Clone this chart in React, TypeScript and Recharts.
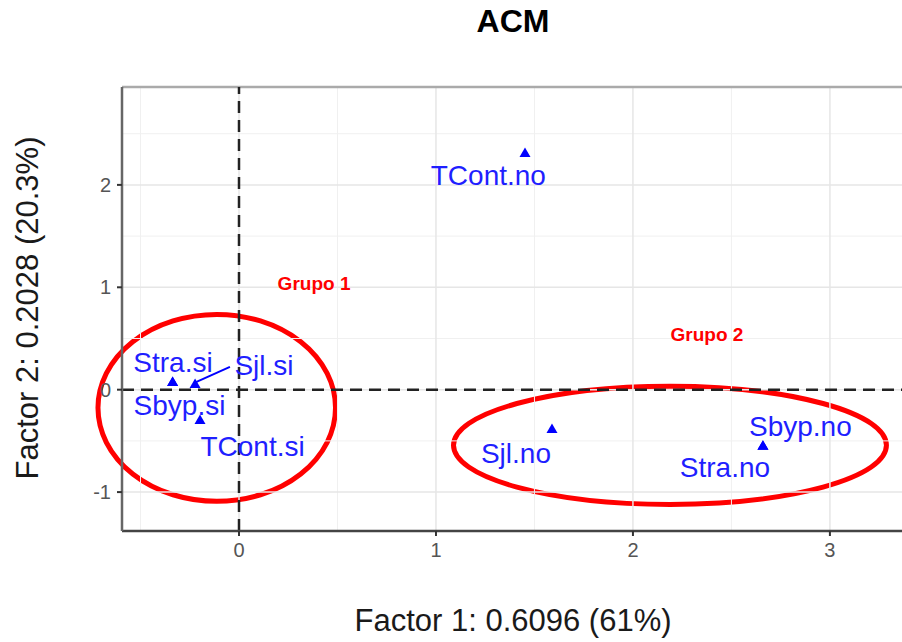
import React from "react";
import {
  ScatterChart,
  Scatter,
  XAxis,
  YAxis,
  ReferenceLine,
  ReferenceArea,
} from "recharts";

const FONT = '"Liberation Sans", Arial, Helvetica, sans-serif';

// ---- data ----
const categories = ["TCont.no", "Stra.si", "Sjl.si", "Sbyp.si", "TCont.si", "Sjl.no", "Sbyp.no", "Stra.no"];
const factor1 = [1.452, -0.337, -0.223, -0.337, -0.198, 1.589, 2.66, 2.66];
const factor2 = [2.32, 0.083, 0.063, 0.083, -0.288, -0.376, -0.541, -0.541];
// repelled label positions (data units)
const labelF1 = [1.266, -0.335, 0.127, -0.302, 0.069, 1.406, 2.85, 2.467];
const labelF2 = [2.1, 0.268, 0.239, -0.151, -0.551, -0.615, -0.356, -0.756];

const xTicks = [0, 1, 2, 3];
const yTicks = [-1, 0, 1, 2];
const xMinor = [-0.5, 0.5, 1.5, 2.5];
const yMinor = [-0.5, 0.5, 1.5, 2.5];
const xDomain = [-0.594, 3.366];
const yDomain = [-1.38, 2.956];

const groupNames = ["Grupo 1", "Grupo 2"];
const groupLabelF1 = [0.381, 2.376];
const groupLabelF2 = [1.039, 0.541];
const ellipseX1 = [-0.716, 1.089];
const ellipseX2 = [0.49, 3.287];
const ellipseY1 = [0.735, 0.034];
const ellipseY2 = [-1.09, -1.12];

const sjlSegment = [
  { x: -0.046, y: 0.222 },
  { x: -0.227, y: 0.066 },
];

const points = categories.map((name, i) => ({ name, x: factor1[i], y: factor2[i] }));
const labels = categories.map((name, i) => ({ name, x: labelF1[i], y: labelF2[i] }));
const groups = groupNames.map((name, i) => ({ name, x: groupLabelF1[i], y: groupLabelF2[i] }));

const Triangle = (props: any) => {
  const { cx, cy } = props;
  if (cx == null || cy == null) return null;
  const w = 11;
  const h = 9.5;
  return (
    <polygon
      points={`${cx - w / 2},${cy + h / 2} ${cx + w / 2},${cy + h / 2} ${cx},${cy - h / 2}`}
      fill="#0000ff"
    />
  );
};

const LabelText = (props: any) => {
  const { cx, cy, payload } = props;
  const fs = 28;
  return (
    <text x={cx} y={cy + 0.36 * fs} textAnchor="middle" fontSize={fs} fontFamily={FONT} fill="#1f1fff">
      {payload.name}
    </text>
  );
};

const GroupText = (props: any) => {
  const { cx, cy, payload } = props;
  const fs = 19;
  return (
    <text x={cx} y={cy + 0.36 * fs} textAnchor="middle" fontSize={fs} fontWeight="bold" fontFamily={FONT} fill="#ff0000">
      {payload.name}
    </text>
  );
};

const EllipseShape = (p: any) => (
  <ellipse
    cx={p.x + p.width / 2}
    cy={p.y + p.height / 2}
    rx={Math.abs(p.width / 2)}
    ry={Math.abs(p.height / 2)}
    fill="none"
    stroke="#ff0000"
    strokeWidth={5}
  />
);

export default function App() {
  return (
    <div style={{ position: "absolute", left: 0, top: 0, width: 902, height: 642, background: "#fff", overflow: "hidden" }}>
      <ScatterChart width={902} height={642} margin={{ top: 87, right: 0, bottom: 0, left: 0 }}>
        <XAxis
          type="number"
          dataKey="x"
          domain={xDomain}
          ticks={xTicks}
          allowDataOverflow
          height={111}
          axisLine={{ stroke: "#444", strokeWidth: 2.5 }}
          tickLine={{ stroke: "#333", strokeWidth: 2 }}
          tickSize={5}
          tickMargin={7}
          tick={{ fill: "#555", fontSize: 20, fontFamily: FONT }}
        />
        <YAxis
          type="number"
          dataKey="y"
          domain={yDomain}
          ticks={yTicks}
          allowDataOverflow
          width={122}
          axisLine={{ stroke: "#666", strokeWidth: 2.5 }}
          tickLine={{ stroke: "#333", strokeWidth: 2 }}
          tickSize={5}
          tickMargin={6}
          tick={{ fill: "#555", fontSize: 20, fontFamily: FONT }}
        />
        {xMinor.map((v) => (
          <ReferenceLine key={"xm" + v} x={v} stroke="#f0f0f0" strokeWidth={1} />
        ))}
        {yMinor.map((v) => (
          <ReferenceLine key={"ym" + v} y={v} stroke="#f0f0f0" strokeWidth={1} />
        ))}
        {xTicks.map((v) => (
          <ReferenceLine key={"xM" + v} x={v} stroke="#e6e6e6" strokeWidth={1.5} />
        ))}
        {yTicks.map((v) => (
          <ReferenceLine key={"yM" + v} y={v} stroke="#e6e6e6" strokeWidth={1.5} />
        ))}
        <ReferenceLine y={yDomain[1]} stroke="#aaa" strokeWidth={2.5} ifOverflow="visible" />
        <ReferenceLine x={0} stroke="#222" strokeWidth={2.5} strokeDasharray="12 7" />
        <ReferenceLine y={0} stroke="#222" strokeWidth={2.5} strokeDasharray="12 7" />
        <ReferenceLine segment={sjlSegment} stroke="#0000ff" strokeWidth={2} ifOverflow="visible" />
        <Scatter data={points} shape={Triangle} isAnimationActive={false} />
        <Scatter data={labels} shape={LabelText} isAnimationActive={false} />
        <Scatter data={groups} shape={GroupText} isAnimationActive={false} />
        {groupNames.map((g, i) => (
          <ReferenceArea
            key={g}
            x1={ellipseX1[i]}
            x2={ellipseX2[i]}
            y1={ellipseY1[i]}
            y2={ellipseY2[i]}
            ifOverflow="visible"
            shape={EllipseShape}
          />
        ))}
      </ScatterChart>
      <svg width={902} height={642} style={{ position: "absolute", left: 0, top: 0, pointerEvents: "none" }}>
        <text x={513} y={32} textAnchor="middle" fontSize={32} fontWeight="bold" fontFamily={FONT} fill="#000">
          ACM
        </text>
        <text x={513} y={631} textAnchor="middle" fontSize={31} fontFamily={FONT} fill="#1a1a1a">
          Factor 1: 0.6096 (61%)
        </text>
        <text
          x={38}
          y={308}
          textAnchor="middle"
          fontSize={31}
          fontFamily={FONT}
          fill="#1a1a1a"
          transform="rotate(-90 38 308)"
        >
          Factor 2: 0.2028 (20.3%)
        </text>
      </svg>
    </div>
  );
}
